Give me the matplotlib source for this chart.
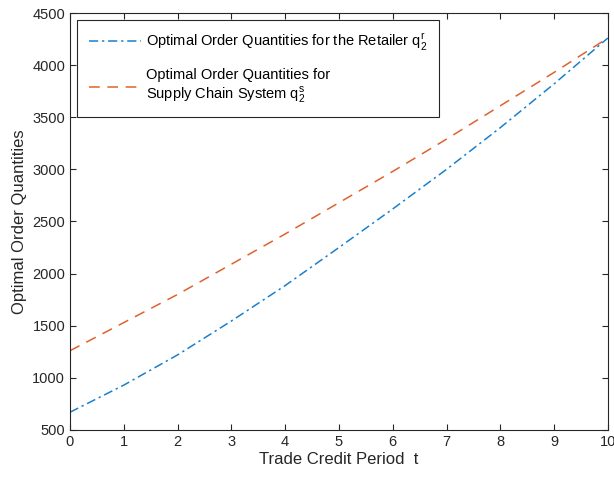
import numpy as np
import matplotlib.pyplot as plt

plt.rcParams['font.family'] = ['Liberation Sans', 'DejaVu Sans']
plt.rcParams['mathtext.fontset'] = 'custom'
plt.rcParams['mathtext.rm'] = 'Liberation Sans'

# trade credit period t
t = [0, 1, 2, 3, 4, 5, 6, 7, 8, 9, 10]
# optimal order quantities
q_retailer = [670, 930, 1220, 1545, 1885, 2250, 2620, 3000, 3400, 3820, 4260]
q_supply = [1260, 1530, 1800, 2090, 2380, 2680, 2980, 3290, 3610, 3930, 4260]

fig = plt.figure(figsize=(6.14, 4.82), dpi=100)
ax = fig.add_axes([0.114, 0.108, 0.876, 0.865])

ax.plot(t, q_retailer, color='#1A80CC', linestyle=(0, (6, 2.5, 1.5, 2.5)), linewidth=1.1,
        label=r'Optimal Order Quantities for the Retailer $\mathrm{q}_2^\mathrm{r}$')
ax.plot(t, q_supply, color='#DE6230', linestyle=(0, (7, 5)), linewidth=1.1,
        label='Optimal Order Quantities for\n' + r'Supply Chain System $\mathrm{q}_2^\mathrm{s}$')

ax.set_xlim(0, 10)
ax.set_ylim(500, 4500)
ax.set_xticks(range(0, 11))
ax.set_yticks(range(500, 4501, 500))
ax.tick_params(direction='in', top=True, right=True, labelsize=10.5,
               colors='#262626', length=4)
for s in ax.spines.values():
    s.set_color('#262626')
    s.set_linewidth(0.8)

ax.set_xlabel('Trade Credit Period  t', fontsize=12, color='#262626', labelpad=2)
ax.set_ylabel('Optimal Order Quantities', fontsize=12, color='#262626', labelpad=4)

leg = ax.legend(loc='upper left', fontsize=10.5, fancybox=False, framealpha=1,
                edgecolor='#262626', borderaxespad=0.5, handlelength=3.6,
                handletextpad=0.3, labelspacing=1.0, borderpad=0.8)
leg.get_frame().set_linewidth(0.8)

fig.savefig('out.png', dpi=100)
